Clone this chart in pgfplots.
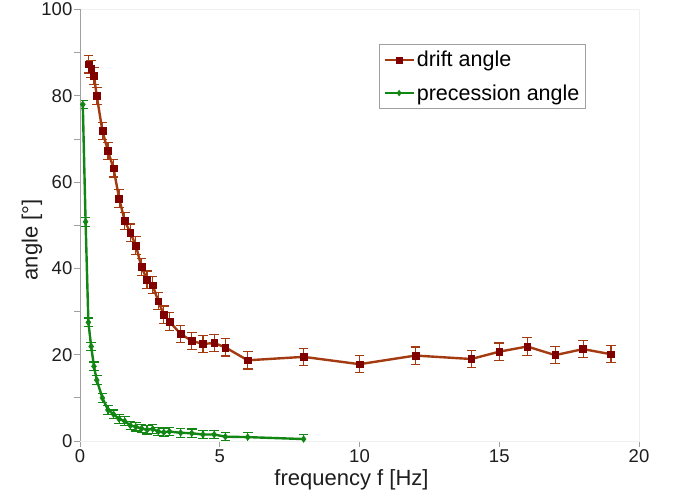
\documentclass[border=0pt]{standalone}
\usepackage{fontspec}
\setmainfont{Liberation Sans}
\usepackage{pgfplots}
\pgfplotsset{compat=1.18}
\definecolor{driftline}{RGB}{163,58,16}
\definecolor{driftmark}{RGB}{128,0,0}
\definecolor{precline}{RGB}{18,134,18}
\definecolor{axgray}{RGB}{160,160,160}
\definecolor{txt}{RGB}{30,30,30}
\begin{document}
\begin{tikzpicture}
\begin{axis}[
  scale only axis, width=559pt, height=431.5pt,
  xmin=0, xmax=20, ymin=0, ymax=100,
  xtick={0,5,10,15,20}, ytick={0,20,40,60,80,100},
  minor ytick={10,30,50,70,90},
  tick align=outside, tick pos=left,
  major tick length=6pt, minor tick length=6pt,
  every tick/.style={axgray, line width=0.8pt},
  axis line style={draw=black!6, line width=0.8pt},
  /pgf/number format/assume math mode=true,
  ticklabel style={font=\fontsize{18.5}{20}\selectfont, text=txt},
  yticklabel style={inner sep=1.5pt},
  xticklabel style={inner sep=2.5pt},
  xlabel={frequency f [Hz]}, ylabel={angle [°]},
  label style={font=\fontsize{22}{24}\selectfont, text=txt},
  xlabel style={at={(axis description cs:0.4857,-0.0892)}, anchor=center},
  ylabel style={at={(axis description cs:-0.0859,0.466)}, anchor=center},
  legend style={at={(0.535,0.92)}, anchor=north west, draw=axgray, line width=0.8pt,
    font=\fontsize{21.5}{24}\selectfont, text=black, row sep=12pt,
    inner xsep=4pt, inner ysep=5pt},
  legend cell align=left,
  legend image code/.code={\draw[mark repeat=2,mark phase=2,mark size=2.8pt] plot coordinates {(0pt,0pt)(14.5pt,0pt)(29pt,0pt)};},
]
\addplot[color=driftline, line width=2.4pt, mark=square*, mark size=3.4pt,
  mark options={fill=driftmark, draw=driftmark, line width=0.5pt},
  error bars/.cd, y dir=both, y explicit,
  error bar style={color=driftline, line width=1.2pt},
  error mark options={rotate=90, mark size=4.8pt, color=driftline, line width=1.2pt}]
  coordinates {
  (0.3,87.3) +- (0,2)
  (0.4,86.2) +- (0,2)
  (0.5,84.6) +- (0,2)
  (0.6,80.0) +- (0,2)
  (0.8,71.9) +- (0,2)
  (1.0,67.2) +- (0,2)
  (1.2,63.2) +- (0,2)
  (1.4,56.2) +- (0,2)
  (1.6,51.0) +- (0,2)
  (1.8,48.3) +- (0,2)
  (2.0,45.3) +- (0,2)
  (2.2,40.3) +- (0,2)
  (2.4,37.4) +- (0,2)
  (2.6,36.1) +- (0,2)
  (2.8,32.4) +- (0,2)
  (3.0,29.3) +- (0,2)
  (3.2,27.7) +- (0,2)
  (3.6,24.8) +- (0,2)
  (4.0,23.2) +- (0,2)
  (4.4,22.5) +- (0,2)
  (4.8,22.7) +- (0,2)
  (5.2,21.7) +- (0,2)
  (6.0,18.7) +- (0,2)
  (8.0,19.5) +- (0,2)
  (10.0,17.8) +- (0,2)
  (12.0,19.8) +- (0,2)
  (14.0,19.0) +- (0,2)
  (15.0,20.7) +- (0,2)
  (16.0,21.9) +- (0,2)
  (17.0,19.9) +- (0,2)
  (18.0,21.3) +- (0,2)
  (19.0,20.1) +- (0,2)
  };
\addlegendentry{drift angle}
\addplot[color=precline, line width=2.4pt, mark=diamond*, mark size=3.3pt,
  mark options={fill=precline, draw=precline, line width=0.5pt},
  error bars/.cd, y dir=both, y explicit,
  error bar style={color=precline, line width=1.2pt},
  error mark options={rotate=90, mark size=4.8pt, color=precline, line width=1.2pt}]
  coordinates {
  (0.1,78.0) +- (0,1)
  (0.2,50.8) +- (0,1)
  (0.3,27.5) +- (0,1)
  (0.4,21.9) +- (0,1)
  (0.5,17.3) +- (0,1)
  (0.6,14.1) +- (0,1)
  (0.8,10.0) +- (0,1)
  (1.0,7.2) +- (0,1)
  (1.2,6.2) +- (0,1)
  (1.4,5.1) +- (0,1)
  (1.6,4.6) +- (0,1)
  (1.8,3.6) +- (0,1)
  (2.0,3.3) +- (0,1)
  (2.2,2.9) +- (0,1)
  (2.4,2.6) +- (0,1)
  (2.6,2.8) +- (0,1)
  (2.8,2.2) +- (0,1)
  (3.0,2.0) +- (0,1)
  (3.2,2.2) +- (0,1)
  (3.6,1.9) +- (0,1)
  (4.0,1.8) +- (0,1)
  (4.4,1.5) +- (0,1)
  (4.8,1.5) +- (0,1)
  (5.2,1.0) +- (0,1)
  (6.0,0.9) +- (0,1)
  (8.0,0.45) +- (0,1)
  };
\addlegendentry{precession angle\hspace{22pt}}
\draw[axgray, line width=0.8pt] (rel axis cs:0,1) -- (rel axis cs:0,0) -- (rel axis cs:1,0);
\end{axis}
\path (current axis.south west) ++(-80pt,-56pt) coordinate (bbA);
\path (current axis.north east) ++(38pt,9.5pt) coordinate (bbB);
\pgfresetboundingbox
\path (bbA) rectangle (bbB);
\end{tikzpicture}
\end{document}
